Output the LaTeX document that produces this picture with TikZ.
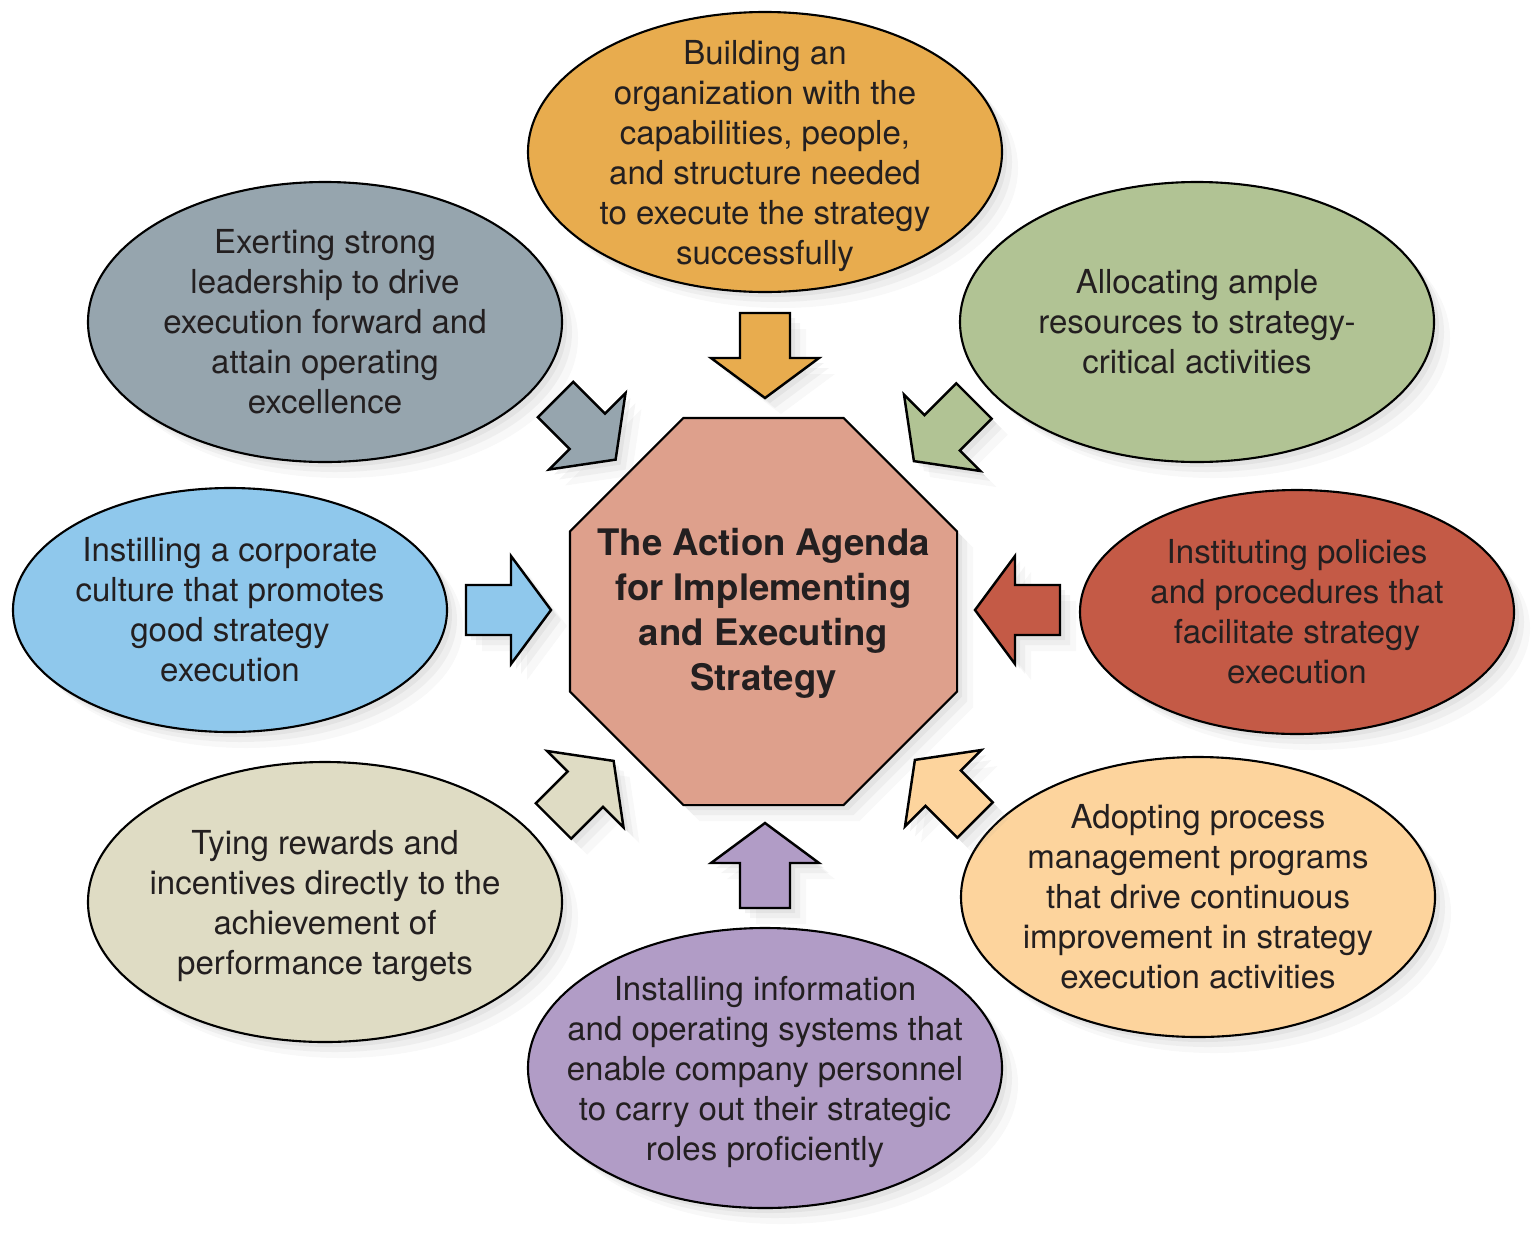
\documentclass[tikz,border=0pt]{standalone}
\usepackage{fontspec}
\setmainfont{TeX Gyre Heros}
\usetikzlibrary{shapes.geometric,shadows}

\definecolor{octagono}{HTML}{DEA08C}
\definecolor{naranja}{HTML}{E8AC4E}
\definecolor{gris}{HTML}{96A5AE}
\definecolor{verde}{HTML}{B1C394}
\definecolor{azul}{HTML}{8FC8EC}
\definecolor{rojo}{HTML}{C45A46}
\definecolor{beige}{HTML}{DFDCC4}
\definecolor{melocoton}{HTML}{FDD49D}
\definecolor{morado}{HTML}{B19CC6}
\definecolor{tinta}{HTML}{231F20}

\begin{document}
\begin{tikzpicture}[
  sombra/.style={drop shadow={opacity=0.06, shadow xshift=1.6mm, shadow yshift=-1.6mm},
                 drop shadow={opacity=0.08, shadow xshift=1.0mm, shadow yshift=-1.0mm},
                 drop shadow={opacity=0.10, shadow xshift=0.5mm, shadow yshift=-0.5mm}},
  elipse/.style={ellipse, draw=black, line width=0.6pt, inner sep=0pt, sombra},
  grande/.style={elipse, minimum width=4.74cm, minimum height=2.80cm},
  lateral/.style={elipse, minimum width=4.34cm, minimum height=2.44cm},
  texto/.style={align=center, text=tinta, inner sep=0pt, font=\fontsize{9.4}{11.4}\selectfont},
  flecha/.style={draw=black, line width=0.7pt, line join=miter, sombra},
  pics/bloque/.style 2 args={code={
    \draw[flecha, fill=#2, x={(#1:1cm)}, y={(#1+90:1cm)}]
      (0,-0.25) -- (0.45,-0.25) -- (0.45,-0.54) -- (0.85,0) -- (0.45,0.54) -- (0.45,0.25) -- (0,0.25) -- cycle;}}
]
  \useasboundingbox (0,0) rectangle (15.39,12.34);

  % Octagono central
  \node (agenda) at (7.635,6.225) [regular polygon, regular polygon sides=8, minimum size=4.19cm,
    inner sep=0pt, fill=octagono, draw=black, line width=0.6pt, sombra] {};
  \node (t-agenda) at (agenda) [texto, yshift=-0.2mm, font=\fontsize{10.4}{12.8}\selectfont\bfseries]
    {The Action Agenda\\for Implementing\\and Executing\\Strategy};

  % Elipses
  \node (organizacion) at (7.65,10.82) [grande, fill=naranja] {};
  \node (recursos) at (11.97,9.12) [grande, fill=verde] {};
  \node (politicas) at (12.97,6.22) [lateral, fill=rojo] {};
  \node (procesos) at (11.98,3.37) [grande, fill=melocoton] {};
  \node (sistemas) at (7.65,1.66) [grande, fill=morado] {};
  \node (recompensas) at (3.25,3.32) [grande, fill=beige] {};
  \node (cultura) at (2.30,6.24) [lateral, fill=azul] {};
  \node (liderazgo) at (3.25,9.12) [grande, fill=gris] {};

  % Textos
  \node (t-organizacion) at (organizacion) [texto, yshift=-0.4mm] {Building an\\organization with the\\capabilities, people,\\and structure needed\\to execute the strategy\\successfully};
  \node (t-recursos) at (recursos) [texto] {Allocating ample\\resources to strategy-\\critical activities};
  \node (t-politicas) at (politicas) [texto] {Instituting policies\\and procedures that\\facilitate strategy\\execution};
  \node (t-procesos) at (procesos) [texto] {Adopting process\\management programs\\that drive continuous\\improvement in strategy\\execution activities};
  \node (t-sistemas) at (sistemas) [texto, yshift=-0.4mm] {Installing information\\and operating systems that\\enable company personnel\\to carry out their strategic\\roles proficiently};
  \node (t-recompensas) at (recompensas) [texto, yshift=-0.4mm] {Tying rewards and\\incentives directly to the\\achievement of\\performance targets};
  \node (t-cultura) at (cultura) [texto] {Instilling a corporate\\culture that promotes\\good strategy\\execution};
  \node (t-liderazgo) at (liderazgo) [texto] {Exerting strong\\leadership to drive\\execution forward and\\attain operating\\excellence};

  % Flechas hacia el centro
  \pic at (7.65,9.21) {bloque={-90}{naranja}};
  \pic at (9.74,8.33) {bloque={-135}{verde}};
  \pic at (10.60,6.24) {bloque={180}{rojo}};
  \pic at (9.75,4.14) {bloque={135}{melocoton}};
  \pic at (7.65,3.26) {bloque={90}{morado}};
  \pic at (5.535,4.13) {bloque={45}{beige}};
  \pic at (4.66,6.24) {bloque={0}{azul}};
  \pic at (5.555,8.345) {bloque={-45}{gris}};
\end{tikzpicture}
\end{document}
